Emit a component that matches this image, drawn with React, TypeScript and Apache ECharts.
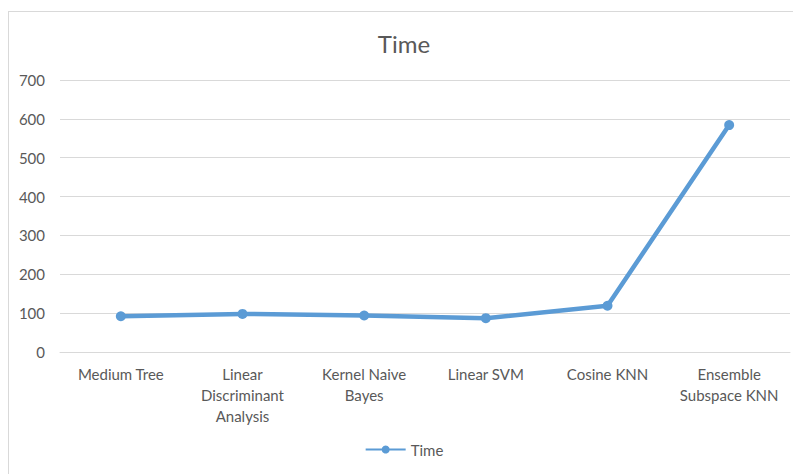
import React, { useEffect, useRef } from "react";
import * as echarts from "echarts";

const categories = [
  "Medium Tree",
  "Linear\nDiscriminant\nAnalysis",
  "Kernel Naive\nBayes",
  "Linear SVM",
  "Cosine KNN",
  "Ensemble\nSubspace KNN",
];
const timeValues = [92, 98, 94, 87, 119, 584];
const yTicks = { min: 0, max: 700, interval: 100 };

const FONT = "Lato, 'Open Sans', sans-serif";
const TEXT = "#595959";
const BLUE = "#5B9BD5";

export default function App() {
  const ref = useRef<HTMLDivElement>(null);

  useEffect(() => {
    if (!ref.current) return;
    const chart = echarts.init(ref.current, undefined, { renderer: "svg" });
    chart.setOption({
      animation: false,
      backgroundColor: "#ffffff",
      title: {
        text: "Time",
        left: "center",
        top: 14,
        textStyle: { fontFamily: FONT, fontSize: 24, fontWeight: "normal", color: TEXT },
      },
      legend: {
        bottom: 12,
        left: "center",
        itemWidth: 40,
        itemHeight: 10,
        itemGap: 4,
        textStyle: { fontFamily: FONT, fontSize: 15, color: TEXT },
        data: ["Time"],
      },
      grid: { left: 51, right: 9, top: 68, bottom: 122 },
      xAxis: {
        type: "category",
        data: categories,
        boundaryGap: true,
        axisLine: { lineStyle: { color: "#d9d9d9" } },
        axisTick: { show: false },
        axisLabel: {
          interval: 0,
          margin: 11,
          fontFamily: FONT,
          fontSize: 15,
          lineHeight: 21,
          color: TEXT,
        },
      },
      yAxis: {
        type: "value",
        min: yTicks.min,
        max: yTicks.max,
        interval: yTicks.interval,
        axisLine: { show: false },
        axisTick: { show: false },
        splitLine: { lineStyle: { color: "#d9d9d9" } },
        axisLabel: { margin: 15, fontFamily: FONT, fontSize: 15, color: TEXT },
      },
      series: [
        {
          name: "Time",
          type: "line",
          data: timeValues,
          symbol: "circle",
          symbolSize: 10,
          lineStyle: { color: BLUE, width: 4.5 },
          itemStyle: { color: BLUE },
        },
      ],
    });
    return () => chart.dispose();
  }, []);

  return (
    <div
      style={{
        marginTop: 3,
        width: 790,
        height: 470,
        border: "1px solid #d9d9d9",
      }}
    >
      <div ref={ref} style={{ width: 790, height: 462 }} />
    </div>
  );
}
